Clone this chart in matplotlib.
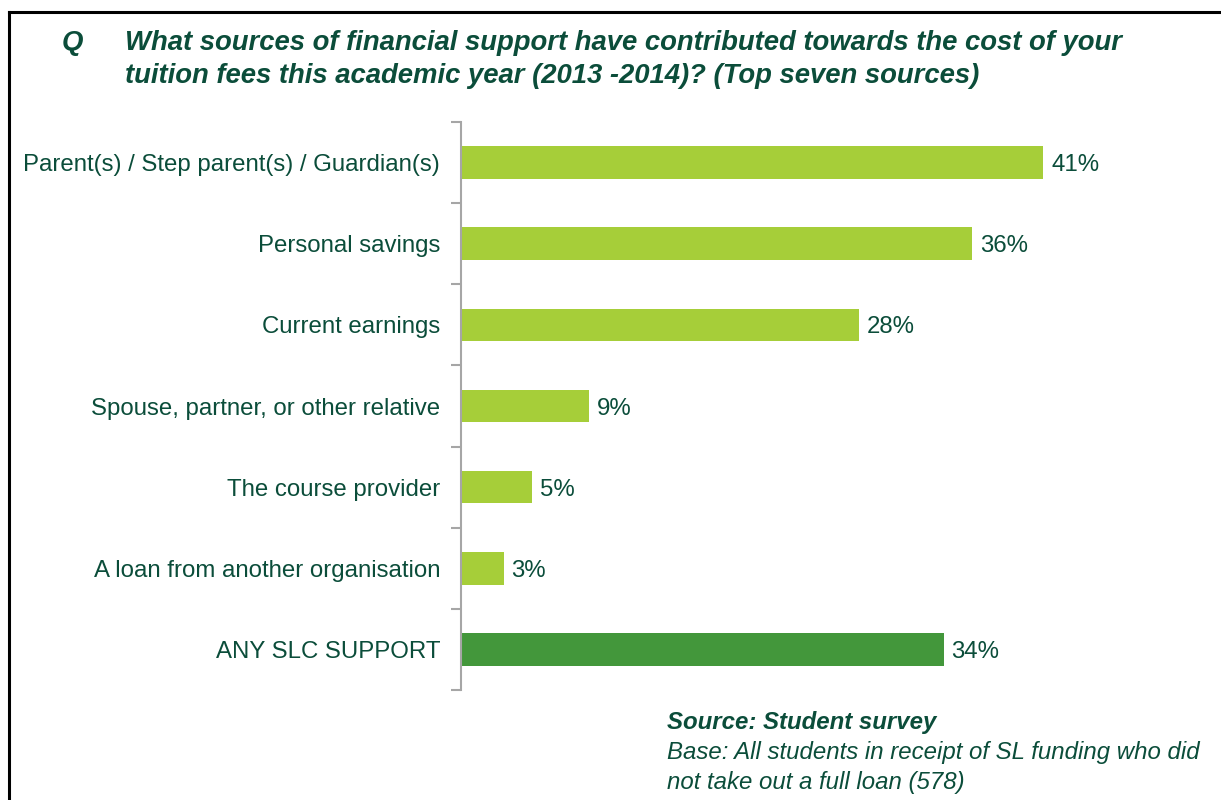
import matplotlib.pyplot as plt
import numpy as np

plt.rcParams['font.family'] = ['Liberation Sans', 'DejaVu Sans']

categories = ['Parent(s) / Step parent(s) / Guardian(s)', 'Personal savings',
              'Current earnings', 'Spouse, partner, or other relative',
              'The course provider', 'A loan from another organisation',
              'ANY SLC SUPPORT']
values = [41, 36, 28, 9, 5, 3, 34]
bar_colors = ['#A6CE39'] * 6 + ['#43973B']

text_green = '#0B4D3A'

fig = plt.figure(figsize=(12.21, 8), dpi=100)
ax = fig.add_axes([461 / 1221, 1 - 690 / 800, 710 / 1221, 568 / 800])

y = np.arange(len(categories))
ax.barh(y, values, height=0.4, color=bar_colors)
for yi, v in zip(y, values):
    ax.text(v + 0.55, yi, f'{v}%', va='center_baseline', ha='left', fontsize=17.3,
            color=text_green)

ax.set_xlim(0, 50)
ax.set_ylim(len(categories) - 0.5, -0.5)
ax.set_yticks(y)
ax.set_yticklabels(categories, fontsize=17.3, color=text_green)
ax.tick_params(axis='y', length=0, pad=15)
ax.set_yticks(np.arange(-0.5, len(categories)), minor=True)
ax.tick_params(axis='y', which='minor', length=7, width=1.5, color='#A6A6A6', direction='out')
ax.set_xticks([])
for side in ['top', 'right', 'bottom']:
    ax.spines[side].set_visible(False)
ax.spines['left'].set_color('#A6A6A6')
ax.spines['left'].set_linewidth(1.5)

# title block
title_kw = dict(fontsize=19.8, fontweight='bold', fontstyle='italic', color=text_green,
                va='baseline')
fig.text(62 / 1221, 1 - 50 / 800, 'Q', **title_kw)
fig.text(125 / 1221, 1 - 50 / 800,
         'What sources of financial support have contributed towards the cost of your',
         **title_kw)
fig.text(125 / 1221, 1 - 83 / 800,
         'tuition fees this academic year (2013 -2014)? (Top seven sources)', **title_kw)

# source note
fig.text(667 / 1221, 1 - 729 / 800, 'Source: Student survey', fontsize=17.3,
         fontweight='bold', fontstyle='italic', color=text_green, va='baseline')
fig.text(667 / 1221, 1 - 759 / 800, 'Base: All students in receipt of SL funding who did',
         fontsize=17.3, fontstyle='italic', color=text_green, va='baseline')
fig.text(667 / 1221, 1 - 789 / 800, 'not take out a full loan (578)',
         fontsize=17.3, fontstyle='italic', color=text_green, va='baseline')

# frame lines along top and left
fig.add_artist(plt.Line2D([9 / 1221, 1], [1 - 12 / 800, 1 - 12 / 800], color='black', lw=2.2))
fig.add_artist(plt.Line2D([9 / 1221, 9 / 1221], [0, 1 - 12 / 800], color='black', lw=2.2))

fig.savefig('out.png', dpi=100)
